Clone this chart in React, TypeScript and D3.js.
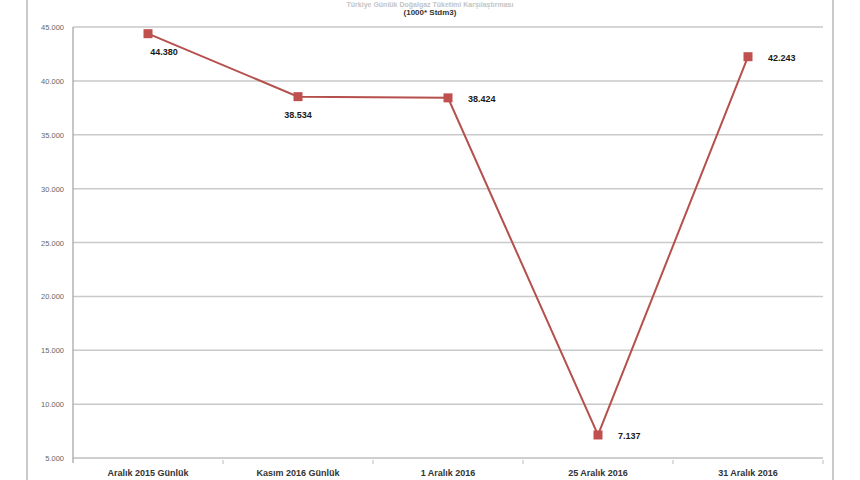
import React from "react";
import * as d3 from "d3";

const categories = ["Aralık 2015 Günlük", "Kasım 2016 Günlük", "1 Aralık 2016", "25 Aralık 2016", "31 Aralık 2016"];
const values = [44380, 38534, 38424, 7137, 42243];
const valueLabels = ["44.380", "38.534", "38.424", "7.137", "42.243"];
const labelPlacement = ["below", "below", "right", "right", "right"];
const yTicks = [5000, 10000, 15000, 20000, 25000, 30000, 35000, 40000, 45000];
const titleText = "Türkiye Günlük Doğalgaz Tüketimi Karşılaştırması";
const subtitleText = "(1000* Stdm3)";

const W = 860;
const H = 480;
const margin = { left: 73, right: 37, top: 27, bottom: 22 };

export default function App() {
  const x = d3
    .scaleBand<string>()
    .domain(categories)
    .range([margin.left, W - margin.right])
    .padding(0);
  const y = d3.scaleLinear().domain([5000, 45000]).range([H - margin.bottom, margin.top]);
  const fmt = (v: number) => d3.format(",")(v).replace(/,/g, ".");
  const cx = (c: string) => (x(c) as number) + x.bandwidth() / 2;
  const line = d3
    .line<number>()
    .x((_, i) => cx(categories[i]))
    .y((d) => y(d));
  const bandEdges = categories.map((c) => (x(c) as number) + x.bandwidth());
  const font = "'Liberation Sans', 'DejaVu Sans', sans-serif";
  const lineColor = "#b5504c";
  const markerColor = "#c0504d";

  return (
    <svg
      width={W}
      height={H}
      style={{ position: "absolute", left: 0, top: 0, background: "#fff" }}
      fontFamily={font}
    >
      <rect x={0} y={0} width={W} height={H} fill="#fff" />
      {/* frame */}
      <line x1={27} x2={27} y1={0} y2={H} stroke="#a6a6a6" strokeWidth={1.2} />
      <line x1={833} x2={833} y1={0} y2={H} stroke="#a6a6a6" strokeWidth={1.2} />
      {/* title */}
      <text x={430} y={7} textAnchor="middle" fontSize={7} fontWeight="bold" fill="#c4c4c4">
        {titleText}
      </text>
      <text x={430} y={15} textAnchor="middle" fontSize={8} fontWeight="bold" fill="#333">
        {subtitleText}
      </text>
      {/* gridlines */}
      {yTicks.map((t) => (
        <g key={t}>
          <line
            x1={margin.left}
            x2={W - margin.right}
            y1={y(t)}
            y2={y(t)}
            stroke={t === 5000 ? "#bfbfbf" : "#c9c9c9"}
            strokeWidth={1.5}
          />
          <text x={64} y={y(t) + 3} textAnchor="end" fontSize={7.5} fill="#666">
            {fmt(t)}
          </text>
        </g>
      ))}
      {/* y axis */}
      <line x1={margin.left} x2={margin.left} y1={margin.top} y2={H - margin.bottom + 5} stroke="#a0a0a0" strokeWidth={1.2} />
      {/* x ticks */}
      {bandEdges.map((e, i) => (
        <line key={i} x1={e} x2={e} y1={H - margin.bottom + 2} y2={H - margin.bottom + 6} stroke="#bbb" strokeWidth={1} />
      ))}
      {categories.map((c) => (
        <text key={c} x={cx(c)} y={H - 4} textAnchor="middle" fontSize={9} fontWeight="bold" fill="#333">
          {c}
        </text>
      ))}
      {/* series */}
      <path d={line(values) || ""} fill="none" stroke={lineColor} strokeWidth={2} />
      {values.map((v, i) => (
        <rect key={i} x={cx(categories[i]) - 4.5} y={y(v) - 4.5} width={9} height={9} fill={markerColor} />
      ))}
      {values.map((v, i) => {
        const px = cx(categories[i]);
        const py = y(v);
        const below = labelPlacement[i] === "below";
        return (
          <text
            key={i}
            x={below ? px + (i === 0 ? 16 : 0) : px + 20}
            y={below ? py + 21 : py + 4}
            textAnchor={below ? "middle" : "start"}
            fontSize={9}
            fontWeight="bold"
            fill="#1a1a1a"
          >
            {valueLabels[i]}
          </text>
        );
      })}
    </svg>
  );
}
